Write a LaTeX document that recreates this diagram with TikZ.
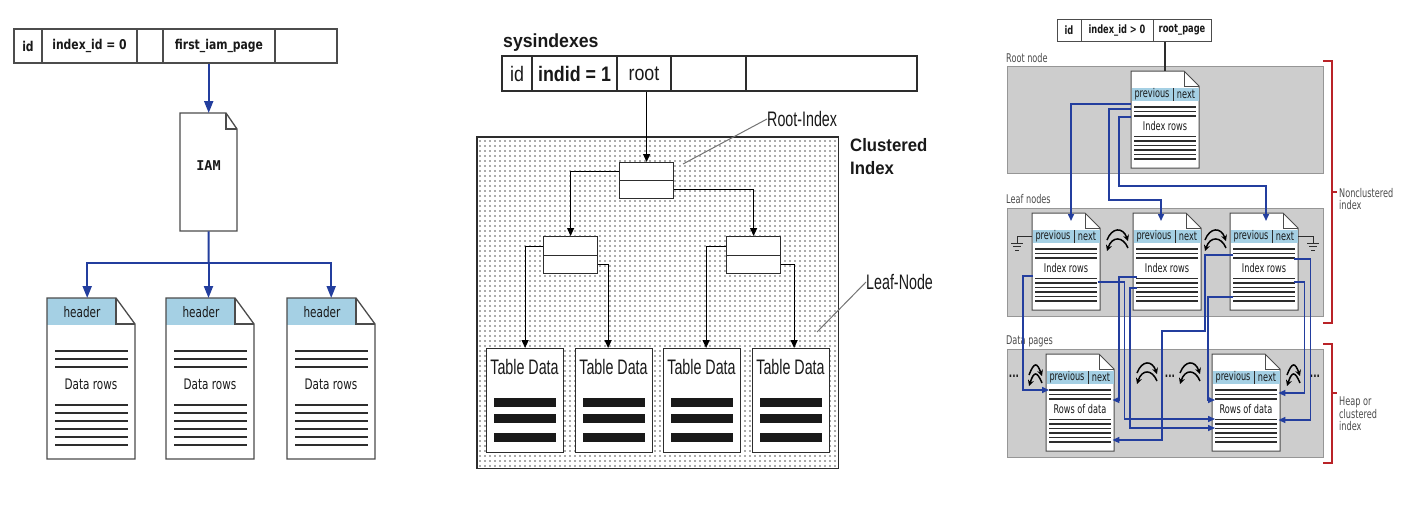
\documentclass[tikz,border=0pt]{standalone}
\usepackage{fontspec}
\usetikzlibrary{arrows.meta,patterns.meta,calc}
\newfontfamily\lfont[FakeStretch=0.72]{DejaVu Sans}
\newfontfamily\lbfont[FakeStretch=0.8]{DejaVu Sans}
\newfontfamily\iamfont{DejaVu Sans Mono}
\newfontfamily\rfont[FakeStretch=0.68]{DejaVu Sans}
\newfontfamily\rbfont[FakeStretch=0.72]{DejaVu Sans}
\newfontfamily\mfont[FakeStretch=0.68]{Liberation Sans}
\newfontfamily\mtfont[FakeStretch=0.85]{Liberation Sans}
\newfontfamily\mwfont[FakeStretch=0.93]{Liberation Sans}
\newcommand\fsz[2]{\fontsize{#1}{#2}\selectfont}
\definecolor{bblue}{RGB}{35,62,158}
\definecolor{hblue}{RGB}{165,208,228}
\definecolor{gbox}{RGB}{205,205,205}
\definecolor{gedge}{RGB}{150,150,150}
\definecolor{bred}{RGB}{185,35,40}
\definecolor{dk}{RGB}{45,45,45}
\definecolor{txt}{RGB}{25,25,25}
\tikzset{
 hold/.style={inner sep=0, draw=none},
 cellL/.style={draw=dk!85, line width=1.3pt, inner sep=0, minimum height=34pt, text=txt, font=\lbfont\bfseries\fsz{13.5}{16}},
 cellM/.style={draw=dk, line width=1.2pt, inner sep=0, minimum height=35pt, text=txt, font=\mtfont\fsz{21}{24}},
 cellR/.style={draw=dk!85, line width=1pt, inner sep=0, minimum height=22pt, text=txt, font=\rbfont\bfseries\fsz{11.5}{13}},
 ledge/.style={draw=dk!85, line width=1.3pt},
 lrow/.style={draw=dk, line width=2.6pt},
 ltext/.style={text=txt, font=\lfont\fsz{14.5}{17}, inner sep=0},
 barr/.style={draw=bblue, line width=2pt, -{Triangle[width=9pt,length=12pt]}},
 bline/.style={draw=bblue, line width=2pt},
 mbox/.style={draw=dk, line width=1.2pt, fill=white, inner sep=0},
 marr/.style={draw=black, line width=1.2pt, -{Triangle[width=7pt,length=8pt]}},
 lead/.style={draw=black!55, line width=1pt},
 mtext/.style={text=txt, font=\mfont\fsz{21}{24}, inner sep=0},
 rbox/.style={fill=gbox, draw=gedge, line width=1pt, inner sep=0},
 redge/.style={draw=dk!85, line width=1pt},
 rrow/.style={draw=dk, line width=1.6pt},
 rtext/.style={text=txt, font=\rfont\fsz{12}{13}, inner sep=0},
 rlabel/.style={text=black!70, font=\rfont\fsz{12}{12.5}, inner sep=0, align=left},
 rarr/.style={draw=bblue, line width=1.5pt, -{Triangle[width=6pt,length=7pt]}},
 rline/.style={draw=dk, line width=1.5pt},
 sarr/.style={draw=black, line width=1.5pt, -{Stealth[width=6pt,length=6pt]}},
 bracket/.style={draw=bred, line width=1.5pt},
}
% left document page
\newcommand\ldoc[2]{%
 \node[hold, minimum width=88pt, minimum height=161pt, anchor=north west] (#1) at (#2,298) {};
 \fill[white] (#2,298) -- (#2+69,298) -- (#2+88,324) -- (#2+88,459) -- (#2,459) -- cycle;
 \fill[hblue] (#2,298) rectangle (#2+69,325);
 \draw[ledge] (#2,298) -- (#2+69,298) -- (#2+88,324) -- (#2+88,459) -- (#2,459) -- cycle;
 \draw[ledge] (#2+69,298) -- (#2+69,324) -- (#2+88,324);
 \node[ltext] at (#2+35,312) {header};
 \node[ltext] at (#2+44,384) {Data rows};
 \foreach \yy in {351,359,367,405,413,421,429,437,445} {\draw[lrow] (#2+8,\yy) -- (#2+81,\yy);}
}
% right document page
\newcommand\rdoc[4]{%
 \node[hold, minimum width=68pt, minimum height=97pt, anchor=north west] (#1) at (#2,#3) {};
 \draw[redge, fill=white] (#2,#3) -- (#2+53,#3) -- (#2+68,#3+15) -- (#2+68,#3+97) -- (#2,#3+97) -- cycle;
 \draw[redge] (#2+53,#3) -- (#2+53,#3+15) -- (#2+68,#3+15);
 \fill[hblue] (#2+0.5,#3+17) rectangle (#2+67.5,#3+30);
 \draw[dk, line width=1pt] (#2+42,#3+17) -- (#2+42,#3+30);
 \node[rtext] at (#2+21,#3+23.5) {previous};
 \node[rtext] at (#2+55,#3+23.5) {next};
 \node[rtext] at (#2+34,#3+55.5) {#4};
 \foreach \k in {36,40.5,45,65.5,70,74.5,79,83.5,88} {\draw[rrow] (#2+3,#3+\k) -- (#2+65,#3+\k);}
}
% table data box
\newcommand\tdbox[2]{%
 \node[mbox, minimum width=77pt, minimum height=104pt, anchor=north west] (#1) at (#2,348) {};
 \node[mtext] at (#2+38.5,367) {Table Data};
 \foreach \yy in {402,418.5,437} {\fill[black!90] (#2+8,\yy-4.5) rectangle (#2+70,\yy+4.5);}
}
\newcommand\swap[3]{%
 \draw[sarr] (#1,#3+10) .. controls (#1+5,#3-3) and (#2-5,#3-3) .. (#2,#3+11);
 \draw[sarr] (#2,#3+18) .. controls (#2-5,#3+6) and (#1+5,#3+6) .. (#1,#3+21);
}
\newcommand\gnd[1]{\draw[dk, line width=1pt] (#1-6,243) -- (#1+6,243) (#1-4,246.5) -- (#1+4,246.5) (#1-2,250) -- (#1+2,250);}
\begin{document}
\begin{tikzpicture}[x=1pt,y=-1pt]
\useasboundingbox (0,0) rectangle (1425,531);
\fill[white] (0,0) rectangle (1425,531);
%================ LEFT PANEL
\node[cellL, minimum width=28pt] (lc1) at (28,46) {id};
\node[cellL, minimum width=95pt] (lc2) at (89.5,46) {index\_id = 0};
\node[cellL, minimum width=26pt] (lc3) at (150,46) {};
\node[cellL, minimum width=112pt] (lc4) at (219,46) {first\_iam\_page};
\node[cellL, minimum width=62pt] (lc5) at (306,46) {};
\node[hold, minimum width=57pt, minimum height=118pt, anchor=north west] (iam) at (180,113) {};
\draw[ledge, fill=white] (180,113) -- (226,113) -- (237,129) -- (237,231) -- (180,231) -- cycle;
\draw[ledge] (226,113) -- (226,129) -- (237,129);
\node[text=txt, font=\iamfont\bfseries\fsz{13.5}{15}, inner sep=0] at (208.5,166) {IAM};
\draw[barr] (lc4.south -| iam.north) -- (iam.north);
\coordinate (lsplit) at (208.5,263);
\draw[bline] (iam.south) -- (lsplit);
\ldoc{ld1}{47}
\ldoc{ld2}{166}
\ldoc{ld3}{287}
\draw[barr] (lsplit) -| ([xshift=-4pt]ld1.north);
\draw[barr] (lsplit) -- (lsplit |- ld2.north);
\draw[barr] (lsplit) -| (ld3.north);
%================ MIDDLE PANEL
\node[anchor=base west, inner sep=0, text=txt, font=\mwfont\bfseries\fsz{19}{22}] (sysi) at (503,47) {sysindexes};
\node[cellM, minimum width=30pt] (mc1) at (517,73.5) {id};
\node[cellM, minimum width=85pt] (mc2) at (574.5,73.5) {\bfseries indid = 1};
\node[cellM, minimum width=54pt] (mc3) at (644,73.5) {root};
\node[cellM, minimum width=75pt] (mc4) at (708.5,73.5) {};
\node[cellM, minimum width=171pt] (mc5) at (831.5,73.5) {};
\node[hold, minimum width=361pt, minimum height=331pt, anchor=north west] (cidx) at (477,137) {};
\fill[white] (cidx.north west) rectangle (cidx.south east);
\fill[pattern={Dots[distance=5pt,radius=0.8pt]}, pattern color=black!65] (cidx.north west) rectangle (cidx.south east);
\draw[dk, line width=1.2pt] (cidx.north west) rectangle (cidx.south east);
\node[mbox, minimum width=54pt, minimum height=36pt, anchor=north west] (mroot) at (619,162) {};
\draw[dk, line width=1.2pt] (mroot.west) -- (mroot.east);
\node[mbox, minimum width=54pt, minimum height=37pt, anchor=north west] (mL) at (543,236) {};
\draw[dk, line width=1.2pt] (mL.west) -- (mL.east);
\node[mbox, minimum width=54pt, minimum height=37pt, anchor=north west] (mR) at (726,236) {};
\draw[dk, line width=1.2pt] (mR.west) -- (mR.east);
\draw[marr] (mc3.south -| mroot.north) -- (mroot.north);
\draw[marr] ([yshift=9pt]mroot.west) -| (mL.north);
\draw[marr] ([yshift=-9pt]mroot.east) -| (mR.north);
\tdbox{td1}{486}
\tdbox{td2}{575}
\tdbox{td3}{663}
\tdbox{td4}{752}
\draw[marr] ([yshift=9pt]mL.west) -| (td1.north);
\draw[marr] ([yshift=-9pt]mL.east) -| ([xshift=-6pt]td2.north);
\draw[marr] ([yshift=9pt]mR.west) -| ([xshift=4pt]td3.north);
\draw[marr] ([yshift=-9pt]mR.east) -| ([xshift=3pt]td4.north);
\node[mtext, anchor=west] (rilab) at (767,119) {Root-Index};
\coordinate (ript) at (683,164);
\draw[lead] (rilab.west) -- (ript);
\node[mtext, anchor=west] (lnlab) at (866,282) {Leaf-Node};
\coordinate (lnpt) at (817,332);
\draw[lead] (lnlab.west) -- (lnpt);
\node[anchor=north west, inner sep=0, align=left, text=txt, font=\mwfont\bfseries\fsz{18}{23}] (clab) at (850,138) {Clustered\\Index};
%================ RIGHT PANEL
\node[cellR, minimum width=24pt] (rc1) at (1069,30) {id};
\node[cellR, minimum width=72pt] (rc2) at (1117,30) {index\_id > 0};
\node[cellR, minimum width=58pt] (rc3) at (1182,30) {root\_page};
\node[rbox, minimum width=316pt, minimum height=107pt, anchor=north west] (groot) at (1007,66) {};
\node[rbox, minimum width=316pt, minimum height=108pt, anchor=north west] (gleaf) at (1007,208) {};
\node[rbox, minimum width=316pt, minimum height=108pt, anchor=north west] (gdata) at (1007,349) {};
\node[rlabel, anchor=base west] (lroot) at (1006,62) {Root node};
\node[rlabel, anchor=base west] (lleaf) at (1006,203) {Leaf nodes};
\node[rlabel, anchor=base west] (ldata) at (1006,344) {Data pages};
\rdoc{rd}{1131}{71}{Index rows}
\rdoc{lf1}{1032}{213}{Index rows}
\rdoc{lf2}{1133}{213}{Index rows}
\rdoc{lf3}{1230}{213}{Index rows}
\rdoc{dd1}{1046}{354}{Rows of data}
\rdoc{dd2}{1212}{354}{Rows of data}
\draw[rline] (rc3.south -| rd.north) -- (rd.north);
% ground
\draw[dk, line width=1pt] ([yshift=25pt]lf1.west) -- ++(-15,0) -- ++(0,6);
\gnd{1017}
\draw[dk, line width=1pt] ([yshift=25pt]lf3.east) -- ++(15,0) -- ++(0,6);
\gnd{1313}
% swaps
\swap{1107}{1128}{230}
\swap{1205}{1226}{230}
\swap{1029}{1042}{365}
\swap{1137}{1157}{363}
\swap{1180}{1200}{363}
\swap{1287}{1300}{365}
\node[rtext, font=\rfont\bfseries\fsz{13}{14}, anchor=base] (el1) at (1014,377) {...};
\node[rtext, font=\rfont\bfseries\fsz{13}{14}, anchor=base] (el2) at (1170,377) {...};
\node[rtext, font=\rfont\bfseries\fsz{13}{14}, anchor=base] (el3) at (1315,377) {...};
% root to leaf
\draw[rarr] ($(rd.north west)+(0,33)$) -| ($(lf1.north west)+(39,8)$);
\draw[rarr] ($(rd.north west)+(0,38)$) -- ++(-22,0) -- ++(0,91) -| ($(lf2.north west)+(28,8)$);
\draw[rarr] ($(rd.north west)+(0,46)$) -- ++(-12,0) -- ++(0,69) -| ($(lf3.north west)+(36,8)$);
% leaf to data
\draw[rarr] ($(lf1.north west)+(1,63)$) -- ++(-10,0) |- ($(dd1.north west)+(3,36)$);
\draw[rarr] ($(lf1.north east)+(-2,69)$) -- ++(26,0) |- ($(dd2.north west)+(3,65)$);
\draw[rarr] ($(lf2.north west)+(4,64)$) -- ++(-18,0) |- ($(dd1.north east)+(-2,46)$);
\draw[rarr] ($(lf2.north west)+(4,75)$) -- ++(-7,0) |- ($(dd2.north west)+(3,74)$);
\draw[rarr] ($(lf3.north west)+(3,42)$) -- ++(-28,0) -- ++(0,76) -- ++(-43,0) |- ($(dd1.north east)+(-2,86)$);
\draw[rarr] ($(lf3.north west)+(3,84)$) -- ++(-25,0) |- ($(dd2.north west)+(3,46)$);
\draw[rarr] ($(lf3.north east)+(-4,46)$) -- ++(16,0) |- ($(dd2.north east)+(-2,66)$);
\draw[rarr] ($(lf3.north east)+(-4,69)$) -- ++(10,0) |- ($(dd2.north east)+(-2,39)$);
% brackets
\draw[bracket] (1323,61) -- (1332,61) -- (1332,323) -- (1323,323);
\draw[bracket] (1332,192) -- (1337,192);
\node[rlabel, anchor=north west] (nclab) at (1339,188) {Nonclustered\\index};
\draw[bracket] (1323,344) -- (1332,344) -- (1332,463) -- (1323,463);
\draw[bracket] (1332,393) -- (1337,393);
\node[rlabel, anchor=north west] (hplab) at (1339,397) {Heap or\\clustered\\index};
\end{tikzpicture}
\end{document}
